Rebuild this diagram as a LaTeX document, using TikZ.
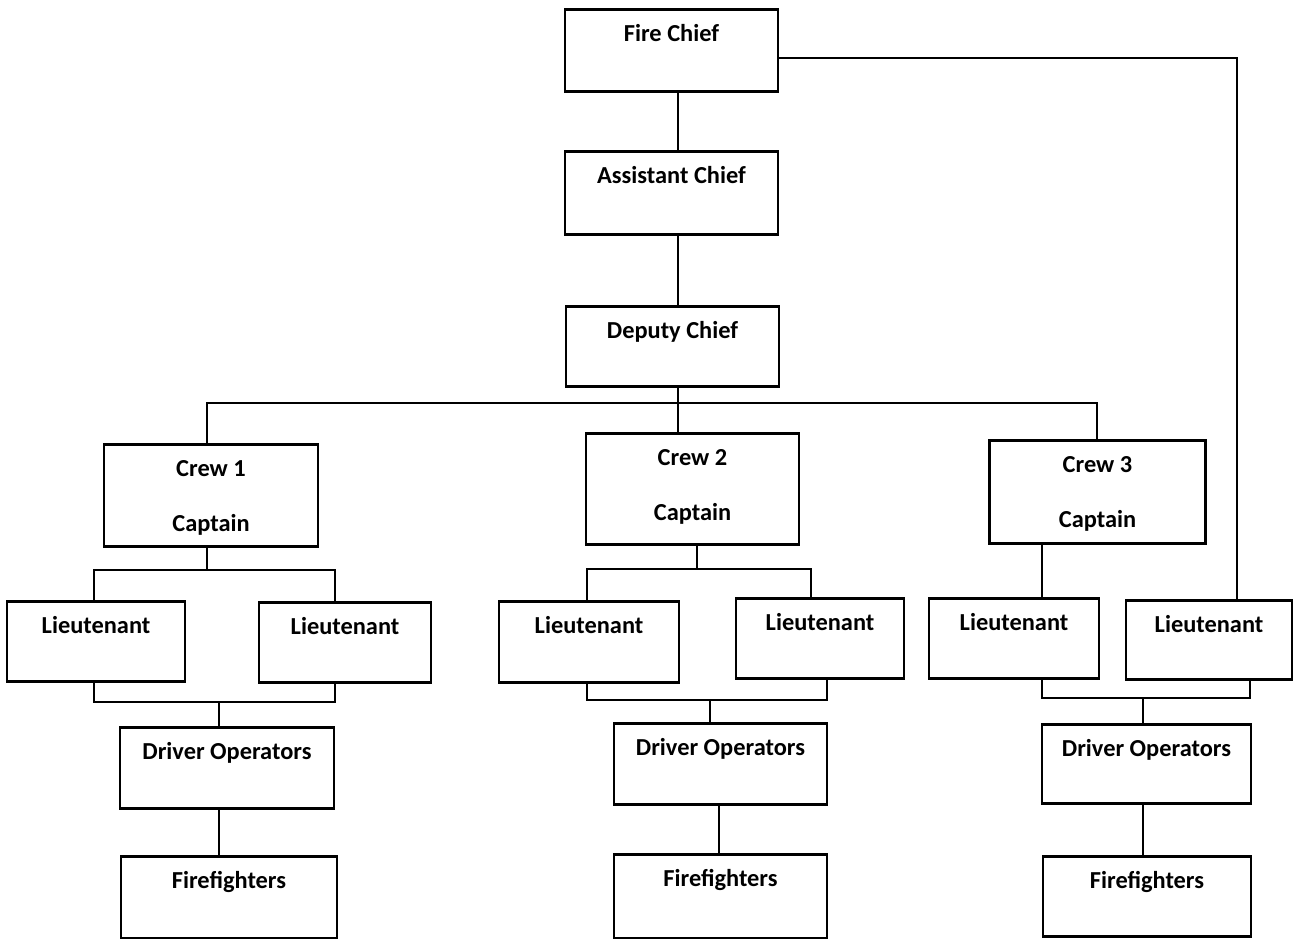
\documentclass[tikz,border=0pt]{standalone}
\usepackage{fontspec}
\setmainfont{Carlito}
\begin{document}
\begin{tikzpicture}[x=1pt,y=-1pt,
  box/.style={draw, line width=2.8pt, inner sep=0pt, text height=32.5pt, anchor=north,
    font=\fontsize{24.4}{55}\selectfont\bfseries, align=center},
  crewbox/.style={box, text height=87.5pt},
  link/.style={line width=2.4pt}]
\useasboundingbox[fill=white] (0,0) rectangle (1298,939);
% nodes
\node[box, minimum width=213pt, text depth=49.5pt] (fc) at (671.5,8) {Fire Chief};
\node[box, minimum width=213pt, text depth=50.5pt] (ac) at (671.5,150) {Assistant Chief};
\node[box, minimum width=213pt, text depth=47.5pt] (dc) at (672.5,305) {Deputy Chief};
\node[crewbox, minimum width=214pt, text depth=14.5pt] (c1) at (211,443) {Crew 1\\Captain};
\node[crewbox, minimum width=213pt, text depth=23.5pt] (c2) at (692.5,432) {Crew 2\\Captain};
\node[crewbox, minimum width=216pt, text depth=15.5pt] (c3) at (1097.5,439) {Crew 3\\Captain};
\node[box, minimum width=178pt, text depth=47.5pt] (l1a) at (96,600) {Lieutenant};
\node[box, minimum width=172pt, text depth=47.5pt] (l1b) at (345,601) {Lieutenant};
\node[box, minimum width=180pt, text depth=48.5pt] (l2a) at (589,600) {Lieutenant};
\node[box, minimum width=168pt, text depth=47.5pt] (l2b) at (820,597) {Lieutenant};
\node[box, minimum width=170pt, text depth=47.5pt] (l3a) at (1014,597) {Lieutenant};
\node[box, minimum width=166pt, text depth=46.5pt] (l3b) at (1209,599) {Lieutenant};
\node[box, minimum width=214pt, text depth=48.5pt] (d1) at (227,726) {Driver Operators};
\node[box, minimum width=213pt, text depth=48.5pt] (d2) at (720.5,722) {Driver Operators};
\node[box, minimum width=209pt, text depth=46.5pt] (d3) at (1146.5,723) {Driver Operators};
\node[box, minimum width=216pt, text depth=49.5pt] (f1) at (229,855) {Firefighters};
\node[box, minimum width=213pt, text depth=51.5pt] (f2) at (720.5,853) {Firefighters};
\node[box, minimum width=208pt, text depth=47.5pt] (f3) at (1147,855) {Firefighters};
% coordinates
\coordinate (k1) at (678,0);
\coordinate (rc) at (1237,58);
\coordinate (b1) at (207,403);
\coordinate (b3) at (1097,403);
\coordinate (p1) at (207,570);
\coordinate (p1a) at (94,570);
\coordinate (p1b) at (335,570);
\coordinate (q1a) at (94,702);
\coordinate (q1b) at (335,702);
\coordinate (q1) at (219,702);
\coordinate (p2) at (697,569);
\coordinate (p2a) at (587,569);
\coordinate (p2b) at (811,569);
\coordinate (q2a) at (587,700);
\coordinate (q2b) at (827,700);
\coordinate (q2) at (710,700);
\coordinate (r2) at (719,0);
\coordinate (k3) at (1042,0);
\coordinate (q3a) at (1042,698);
\coordinate (q3b) at (1250,698);
\coordinate (q3) at (1143,698);
% connectors
\draw[link] (fc.south -| k1) -- (ac.north -| k1);
\draw[link] (ac.south -| k1) -- (dc.north -| k1);
\draw[link] (fc.east |- rc) -- (rc) -- (rc |- l3b.north);
\draw[link] (dc.south -| k1) -- (c2.north -| k1);
\draw[link] (b1 |- c1.north) -- (b1) -- (b3) -- (b3 |- c3.north);
% crew 1
\draw[link] (c1.south -| p1) -- (p1);
\draw[link] (p1a |- l1a.north) -- (p1a) -- (p1b) -- (p1b |- l1b.north);
\draw[link] (q1a |- l1a.south) -- (q1a) -- (q1b) -- (q1b |- l1b.south);
\draw[link] (q1) -- (d1.north -| q1);
\draw[link] (d1.south -| q1) -- (f1.north -| q1);
% crew 2
\draw[link] (c2.south -| p2) -- (p2);
\draw[link] (p2a |- l2a.north) -- (p2a) -- (p2b) -- (p2b |- l2b.north);
\draw[link] (q2a |- l2a.south) -- (q2a) -- (q2b) -- (q2b |- l2b.south);
\draw[link] (q2) -- (d2.north -| q2);
\draw[link] (d2.south -| r2) -- (f2.north -| r2);
% crew 3
\draw[link] (c3.south -| k3) -- (l3a.north -| k3);
\draw[link] (q3a |- l3a.south) -- (q3a) -- (q3b) -- (q3b |- l3b.south);
\draw[link] (q3) -- (d3.north -| q3);
\draw[link] (d3.south -| q3) -- (f3.north -| q3);
\end{tikzpicture}
\end{document}
